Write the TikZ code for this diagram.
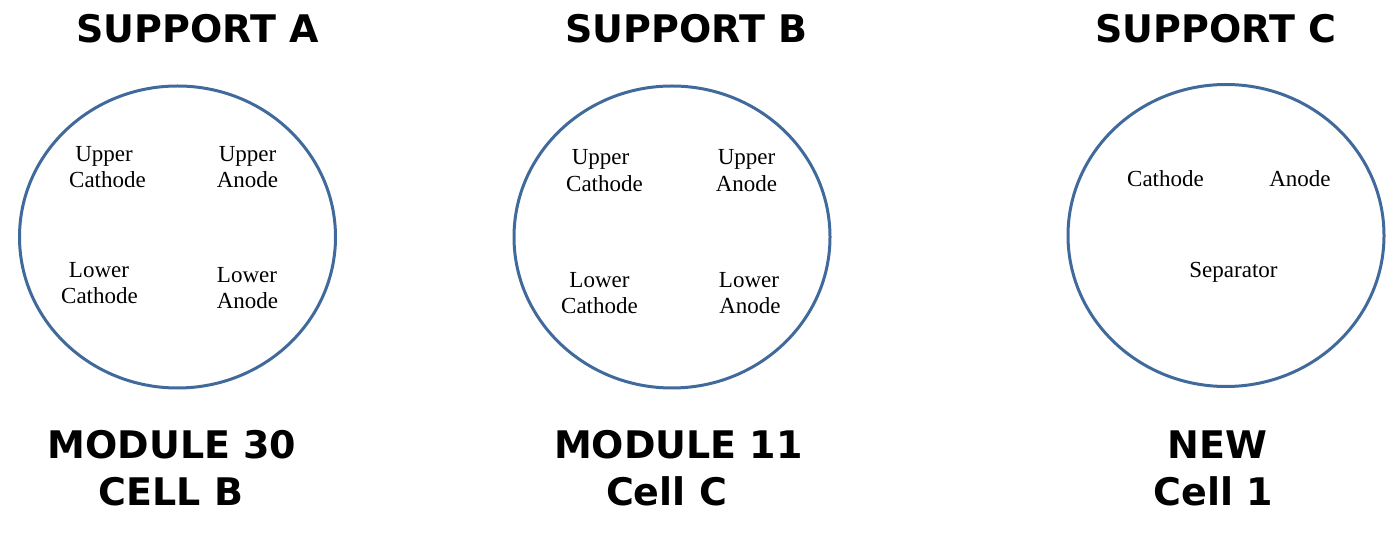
\documentclass[tikz,border=0pt]{standalone}
\usepackage{fontspec}
\setmainfont{Liberation Serif}
\newfontfamily\headfont{DejaVu Sans}
\usetikzlibrary{shapes.geometric}
\definecolor{ringblue}{RGB}{65,106,156}
\tikzset{
  ring/.style={draw=ringblue, line width=3pt, ellipse, minimum width=316pt, minimum height=302pt, inner sep=0pt},
  head/.style={anchor=base, inner sep=0pt, font=\headfont\bfseries\fontsize{38}{40}\selectfont},
  small/.style={anchor=base, inner sep=0pt, yshift=-5pt, font=\fontsize{23}{24}\selectfont},
}
\begin{document}
\begin{tikzpicture}[x=1pt,y=-1pt]
\useasboundingbox (0,0) rectangle (1400,534);
% circles
\node[ring] (ca) at (177.5,237) {};
\node[ring] (cb) at (672,237) {};
\node[ring] (cc) at (1226,235.5) {};
% titles
\node[head] (ta) at (197.5,43) {SUPPORT A};
\node[head] (tb) at (686.5,43) {SUPPORT B};
\node[head] (tc) at (1216,43) {SUPPORT C};
% bottom labels
\node[head] (ba1) at (172,458) {MODULE 30};
\node[head] (ba2) at (171,505) {CELL B};
\node[head] (bb1) at (678.5,458) {MODULE 11};
\node[head] (bb2) at (666.5,505) {Cell C};
\node[head] (bc1) at (1217.5,458) {NEW};
\node[head] (bc2) at (1213.5,505) {Cell 1};
% support A
\node[small] (a1) at (104,157) {Upper};
\node[small] (a2) at (107.5,183) {Cathode};
\node[small] (a3) at (247.5,157) {Upper};
\node[small] (a4) at (247.5,183) {Anode};
\node[small] (a5) at (99,273) {Lower};
\node[small] (a6) at (99.5,299) {Cathode};
\node[small] (a7) at (247,278) {Lower};
\node[small] (a8) at (247.5,304) {Anode};
% support B
\node[small] (b1) at (600.5,160) {Upper};
\node[small] (b2) at (604.5,187) {Cathode};
\node[small] (b3) at (746.5,160) {Upper};
\node[small] (b4) at (746.5,187) {Anode};
\node[small] (b5) at (599.5,283) {Lower};
\node[small] (b6) at (599.5,309) {Cathode};
\node[small] (b7) at (749,283) {Lower};
\node[small] (b8) at (750,309) {Anode};
% support C
\node[small] (c1) at (1165.5,182) {Cathode};
\node[small] (c2) at (1300,182) {Anode};
\node[small] (c3) at (1233.5,273) {Separator};
\end{tikzpicture}
\end{document}
